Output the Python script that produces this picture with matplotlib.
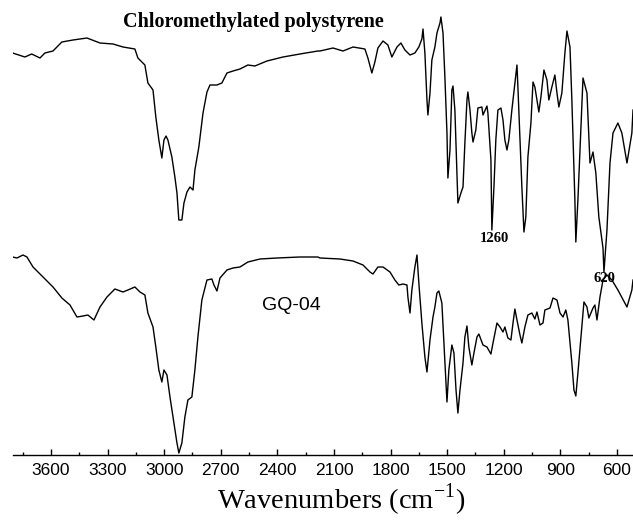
import numpy as np
import matplotlib
matplotlib.use("Agg")
import matplotlib.pyplot as plt
from matplotlib.ticker import MultipleLocator

# FTIR spectra, wavenumber (cm-1) vs transmittance (arbitrary units, traces offset)
wn_cms = [3803, 3738, 3702, 3658, 3632, 3589, 3542, 3483, 3409, 3340, 3271, 3218, 3155,
          3139, 3102, 3086, 3059, 3044, 3028, 3012, 3001, 2990, 2980, 2959, 2943, 2932,
          2922, 2906, 2895, 2879, 2863, 2847, 2837, 2816, 2794, 2773, 2757, 2720, 2694,
          2667, 2635, 2598, 2556, 2519, 2455, 2370, 2280, 2185,
          2174, 2105, 2052, 1999, 1936, 1920, 1899, 1883, 1867, 1840, 1814, 1793, 1766,
          1745, 1724, 1697, 1671, 1650, 1634, 1628, 1618, 1607, 1602, 1591, 1581, 1565,
          1554, 1538, 1533, 1522, 1512, 1501, 1496, 1485, 1475, 1469, 1459, 1448, 1443,
          1427, 1416, 1406, 1395, 1390, 1379, 1369, 1363, 1348, 1337, 1316, 1310, 1289,
          1284, 1268, 1263, 1252, 1242, 1231, 1215, 1204, 1194, 1183, 1173, 1157, 1146,
          1130, 1125, 1114, 1104, 1093, 1083, 1072, 1056, 1045, 1035, 1024, 1014, 1003,
          987, 971, 961, 945, 929, 918, 908, 892, 876, 865, 849, 839, 823, 818, 807, 791,
          780, 759, 743, 727, 712, 696, 674, 669, 653, 637, 621, 595, 574, 547, 521, 515]
t_cms = [402, 398, 401, 397, 402, 404, 413, 415, 417, 412, 411, 408, 406,
         397, 390, 372, 365, 338, 315, 297, 315, 319, 315, 298, 278, 262,
         235, 235, 252, 263, 268, 265, 285, 308, 342, 363, 370, 370, 372,
         382, 384, 386, 390, 389, 394, 398, 401, 404,
         404, 407, 404, 408, 406, 397, 382, 393, 407, 414, 410, 398, 408,
         412, 405, 400, 402, 408, 416, 426, 402, 355, 340, 362, 395, 408,
         422, 432, 438, 422, 378, 322, 277, 305, 365, 369, 345, 282, 252,
         262, 268, 312, 355, 363, 345, 322, 313, 325, 347, 348, 340, 349,
         342, 295, 225, 268, 315, 345, 347, 335, 315, 305, 315, 345, 363,
         390, 368, 315, 268, 223, 238, 298, 332, 373, 368, 355, 343, 358,
         385, 375, 355, 368, 380, 362, 348, 362, 402, 424, 408, 355, 255, 213, 255, 328,
         377, 362, 292, 303, 282, 238, 207, 183, 225, 292, 322, 332, 322, 292, 322, 345]

wn_gq = [3803, 3780, 3748, 3727, 3695, 3642, 3589, 3542, 3499, 3462, 3430, 3404, 3372,
         3340, 3303, 3261, 3218, 3192, 3155, 3128, 3102, 3086, 3059, 3044, 3028, 3012,
         3001, 2985, 2969, 2953, 2932, 2922, 2906, 2890, 2874, 2853, 2837, 2821, 2800,
         2773, 2747, 2736, 2720, 2704, 2667, 2635, 2598, 2556, 2492, 2402, 2280, 2185,
         2174, 2068, 1999, 1946, 1909, 1893, 1867, 1840, 1803, 1777, 1756, 1734, 1713,
         1708, 1697, 1687, 1671, 1660, 1650, 1634, 1618, 1607, 1591, 1575, 1565, 1554,
         1544, 1528, 1517, 1506, 1501, 1491, 1475, 1464, 1453, 1443, 1432, 1416, 1406,
         1395, 1385, 1369, 1358, 1342, 1332, 1310, 1289, 1268, 1257, 1236, 1220, 1204,
         1194, 1178, 1162, 1151, 1141, 1130, 1114, 1104, 1088, 1072, 1051, 1035, 1024,
         1008, 992, 982, 955, 939, 918, 902, 886, 871, 860, 839, 828, 818, 807, 786,
         775, 759, 749, 727, 717, 706, 690, 674, 653, 627, 595, 547, 521, 515]
t_gq = [198, 197, 200, 198, 188, 178, 168, 157, 150, 138, 139, 140, 135,
        148, 158, 166, 163, 165, 168, 163, 160, 142, 128, 108, 85, 73,
        85, 80, 58, 38, 12, 2, 12, 38, 55, 58, 85, 118, 155,
        175, 176, 170, 164, 177, 185, 187, 188, 193, 196, 197, 198, 198,
        197, 196, 194, 190, 183, 181, 188, 188, 183, 175, 170, 171, 170,
        158, 142, 165, 188, 200, 172, 132, 98, 83, 115, 138, 148, 162,
        164, 152, 112, 72, 53, 85, 110, 102, 65, 42, 65, 92, 118,
        129, 108, 90, 102, 118, 121, 110, 108, 101, 112, 132, 128, 123,
        128, 117, 115, 132, 146, 135, 120, 112, 128, 140, 142, 136, 143,
        130, 132, 145, 147, 157, 155, 142, 138, 145, 135, 92, 65, 59, 82, 128,
        153, 148, 137, 147, 150, 135, 158, 175, 180, 175, 165, 148, 165, 175]

major_ticks = [3600, 3300, 3000, 2700, 2400, 2100, 1800, 1500, 1200, 900, 600]

fig = plt.figure(figsize=(6.33, 5.21), dpi=100)
ax = fig.add_axes([13/633, 66/521, 620/633, 440/521])

ax.plot(wn_cms, t_cms, color="black", lw=1.0)
ax.plot(wn_gq, t_gq, color="black", lw=1.0)

ax.set_xlim(3801, 515)
ax.set_ylim(0, 440)
for s in ["left", "right", "top"]:
    ax.spines[s].set_visible(False)
ax.spines["bottom"].set_linewidth(1.0)
ax.set_yticks([])
ax.set_xticks(major_ticks)
ax.xaxis.set_minor_locator(MultipleLocator(150))
ax.tick_params(axis="x", which="major", direction="in", length=4, width=1, pad=6,
               labelsize=12.5)
ax.tick_params(axis="x", which="minor", direction="in", length=2.5, width=1)
for lab in ax.get_xticklabels():
    lab.set_family("Liberation Sans")

ax.text(2529, 433, "Chloromethylated polystyrene", ha="center", va="center",
        family="Liberation Serif", fontweight="bold", fontsize=14.5)
ax.text(2328, 150, "GQ-04", ha="center", va="center", family="Liberation Sans",
        fontsize=14)
ax.text(1247, 216, "1260", ha="center", va="center", family="Liberation Serif",
        fontweight="bold", fontsize=10.5)
ax.text(669, 176, "620", ha="center", va="center", family="Liberation Serif",
        fontweight="bold", fontsize=10.5)

fig.text(341/633, 1 - 500/521, "Wavenumbers (cm$^{\\mathregular{-1}}$)", ha="center",
         va="center", family="Liberation Serif", fontsize=20.5)

fig.savefig("out.png", dpi=100)
